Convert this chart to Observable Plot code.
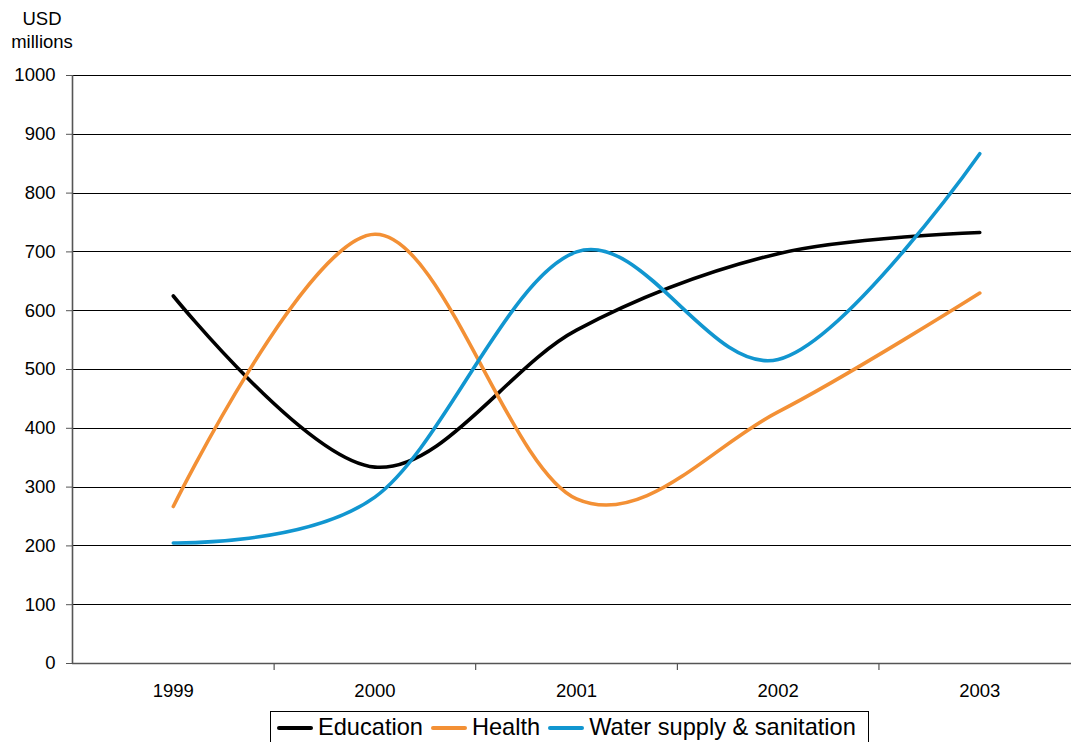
<!DOCTYPE html>
<html>
<head>
<meta charset="utf-8">
<script src="https://cdn.jsdelivr.net/npm/d3@7"></script>
<script src="https://cdn.jsdelivr.net/npm/@observablehq/plot@0.6"></script>
<style>
  html, body { margin: 0; padding: 0; background: #fff; }
  #wrap { position: relative; width: 1071px; height: 742px; overflow: hidden; font-family: "Liberation Sans", Arial, sans-serif; }
  #ylab { position: absolute; left: 2px; top: 7px; width: 80px; text-align: center; font-size: 18.5px; line-height: 23px; color: #000; }
  #legend { position: absolute; left: 270px; top: 711px; width: 599px; height: 40px; border: 1px solid #000; box-sizing: border-box; display: flex; align-items: flex-start; padding-top: 2px; padding-left: 6px; font-size: 23.6px; color: #000; white-space: nowrap; }
  .item { display: flex; align-items: center; margin-right: 8px; }
  .sw { display: inline-block; width: 36px; height: 4px; border-radius: 2px; margin-right: 5px; }
  svg { position: absolute; left: 0; top: 0; }
</style>
</head>
<body>
<div id="wrap">
  <div id="ylab">USD<br>millions</div>
  <div id="legend"></div>
</div>
<script>
const years = [1999, 2000, 2001, 2002, 2003];
const education = [625, 334, 567, 697, 733];
const health = [267, 730, 280, 428, 630];
const water = [205, 283, 700, 517, 867];
const seriesNames = ["Education", "Health", "Water supply & sanitation"];
const seriesColors = ["#000000", "#F39035", "#1196D0"];
const yTicks = [0, 100, 200, 300, 400, 500, 600, 700, 800, 900, 1000];
const boundaryTicks = [1999.5, 2000.5, 2001.5, 2002.5];

const valuesBySeries = [education, health, water];
const rows = [];
seriesNames.forEach((name, i) => {
  years.forEach((yr, j) => rows.push({series: name, year: yr, value: valuesBySeries[i][j]}));
});

const font = '"Liberation Sans", Arial, sans-serif';

const chart = Plot.plot({
  width: 1071,
  height: 706,
  marginLeft: 72,
  marginRight: 0,
  marginTop: 75,
  marginBottom: 43,
  style: {fontFamily: font, fontSize: "18.5px", color: "#000", background: "transparent", overflow: "visible"},
  x: {domain: [1998.5, 2003.455], axis: null},
  y: {domain: [0, 1000], axis: null},
  color: {domain: seriesNames, range: seriesColors},
  marks: [
    Plot.gridY(yTicks.filter(d => d > 0), {stroke: "#000", strokeOpacity: 1, strokeWidth: 1, shapeRendering: "crispEdges"}),
    Plot.axisY({ticks: yTicks, tickSize: 6, tickPadding: 11, stroke: "#555", tickFormat: d => String(d), fontSize: 18.5, fill: "#000", label: null}),
    Plot.axisX({ticks: boundaryTicks, tickSize: 7, stroke: "#333", tickFormat: () => "", label: null}),
    Plot.axisX({ticks: years, tickSize: 0, tickPadding: 20, tickFormat: d => String(d), label: null, fontSize: 18.5, fill: "#000"}),
    Plot.ruleX([1998.5], {stroke: "#555", strokeWidth: 1.6}),
    Plot.ruleY([0], {stroke: "#555", strokeWidth: 1.6}),
    Plot.line(rows, {x: "year", y: "value", z: "series", stroke: "series", strokeWidth: 3.6, curve: "cardinal", strokeLinecap: "round", strokeLinejoin: "round"})
  ]
});

const wrap = document.getElementById("wrap");
wrap.insertBefore(chart, wrap.firstChild);

const legend = document.getElementById("legend");
seriesNames.forEach((name, i) => {
  const item = document.createElement("span");
  item.className = "item";
  const sw = document.createElement("span");
  sw.className = "sw";
  sw.style.background = seriesColors[i];
  item.appendChild(sw);
  item.appendChild(document.createTextNode(name));
  legend.appendChild(item);
});
</script>
</body>
</html>
